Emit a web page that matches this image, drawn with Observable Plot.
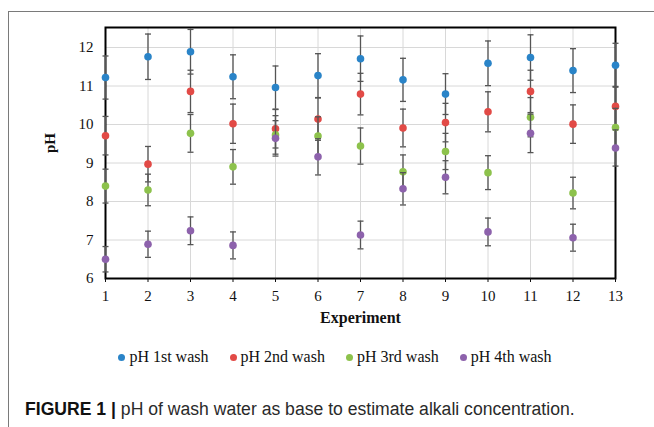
<!DOCTYPE html>
<html>
<head>
<meta charset="utf-8">
<script src="https://cdn.jsdelivr.net/npm/d3@7"></script>
<script src="https://cdn.jsdelivr.net/npm/@observablehq/plot@0.6"></script>
<style>
  html, body { margin: 0; padding: 0; background: #fff; }
  #page { position: relative; width: 654px; height: 427px; overflow: hidden; background: #fff; }
  #border { position: absolute; left: 8px; top: 11px; width: 660px; height: 430px;
            border-top: 1px solid #7a7a7a; border-left: 1px solid #7a7a7a; }
  #chart { position: absolute; left: 0; top: 0; }
  #legend { position: absolute; left: 0; top: 347px; width: 670px; display: flex; justify-content: center;
            gap: 21px; font-family: "Liberation Serif", serif; font-size: 16px; color: #111; line-height: 20px; }
  .item { display: flex; align-items: center; gap: 4px; }
  .sw { width: 7px; height: 7px; border-radius: 50%; display: inline-block; }
  #caption { position: absolute; left: 25px; top: 399px; font-family: "Liberation Sans", Arial, sans-serif;
             font-size: 17.6px; line-height: 20px; color: #2a2a2a; white-space: nowrap; }
  #caption b { font-weight: bold; color: #111; }
</style>
</head>
<body>
<div id="page">
  <div id="border"></div>
  <div id="chart"></div>
  <div id="legend"></div>
  <div id="caption"><b>FIGURE 1 |</b> pH of wash water as base to estimate alkali concentration.</div>
</div>
<script>
// ---- data ----
const experiments = [1, 2, 3, 4, 5, 6, 7, 8, 9, 10, 11, 12, 13];
const seriesNames = ["pH 1st wash", "pH 2nd wash", "pH 3rd wash", "pH 4th wash"];
const seriesColors = ["#2a84c8", "#e24a46", "#8dc24c", "#8d62ac"];
const wash1 = [11.22, 11.76, 11.89, 11.24, 10.96, 11.27, 11.71, 11.16, 10.79, 11.59, 11.74, 11.40, 11.54];
const err1  = [0.56, 0.59, 0.58, 0.57, 0.56, 0.57, 0.59, 0.56, 0.53, 0.58, 0.59, 0.57, 0.57];
const wash2 = [9.71, 8.97, 10.86, 10.02, 9.89, 10.14, 10.79, 9.91, 10.05, 10.33, 10.86, 10.01, 10.47];
const err2  = [0.50, 0.46, 0.55, 0.51, 0.50, 0.55, 0.54, 0.49, 0.50, 0.52, 0.55, 0.50, 0.52];
const wash3 = [8.40, 8.30, 9.77, 8.90, 9.73, 9.70, 9.44, 8.77, 9.30, 8.75, 10.19, 8.22, 9.92];
const err3  = [0.44, 0.41, 0.49, 0.45, 0.50, 0.50, 0.47, 0.44, 0.47, 0.44, 0.51, 0.41, 0.50];
const wash4 = [6.50, 6.89, 7.24, 6.86, 9.64, 9.16, 7.13, 8.33, 8.63, 7.21, 9.77, 7.06, 9.39];
const err4  = [0.33, 0.34, 0.36, 0.35, 0.46, 0.47, 0.36, 0.42, 0.43, 0.36, 0.50, 0.35, 0.47];
const yTicks = [6, 7, 8, 9, 10, 11, 12];
const xLabel = "Experiment";
const yLabel = "pH";

const values = [wash1, wash2, wash3, wash4];
const errors = [err1, err2, err3, err4];
const series = seriesNames.map((name, i) =>
  experiments.map((e, j) => ({exp: e, series: name, ph: values[i][j], err: errors[i][j]})));

const cap = {draw(ctx) { ctx.moveTo(-3, 0); ctx.lineTo(3, 0); }};

const marks = [
  Plot.gridX(experiments, {stroke: "#d8d8d8", strokeOpacity: 1}),
  Plot.gridY(yTicks, {stroke: "#d8d8d8", strokeOpacity: 1}),
  Plot.frame({stroke: "#000", strokeWidth: 2}),
  Plot.axisX(experiments, {tickSize: 4, tickPadding: 8, label: null, fontSize: 15}),
  Plot.axisY(yTicks, {tickSize: 0, tickPadding: 12, label: null, fontSize: 15}),
];
series.forEach((rows, i) => {
  marks.push(
    Plot.ruleX(rows, {x: "exp", y1: d => d.ph - d.err, y2: d => d.ph + d.err, stroke: "#555", strokeWidth: 1.3}),
    Plot.dot(rows, {x: "exp", y: d => d.ph + d.err, symbol: cap, stroke: "#555", strokeWidth: 1.3, fill: "none"}),
    Plot.dot(rows, {x: "exp", y: d => d.ph - d.err, symbol: cap, stroke: "#555", strokeWidth: 1.3, fill: "none"}),
    Plot.dot(rows, {x: "exp", y: "ph", r: 3.8, fill: seriesColors[i], stroke: "none"})
  );
});
marks.push(
  Plot.text([xLabel], {frameAnchor: "bottom", dy: 44, fontWeight: "bold", fontSize: 16}),
  Plot.text([yLabel], {frameAnchor: "left", dx: -55, rotate: -90, fontWeight: "bold", fontSize: 15})
);

const chart = Plot.plot({
  width: 654,
  height: 335,
  marginLeft: 105,
  marginRight: 39,
  marginTop: 27,
  marginBottom: 57,
  x: {domain: [1, 13]},
  y: {domain: [6, 12.52]},
  style: {fontFamily: "'Liberation Serif', serif", fontSize: "15px", color: "#111", background: "transparent", overflow: "visible"},
  marks
});
document.getElementById("chart").appendChild(chart);

const legend = document.getElementById("legend");
seriesNames.forEach((name, i) => {
  const it = document.createElement("div");
  it.className = "item";
  const sw = document.createElement("span");
  sw.className = "sw";
  sw.style.background = seriesColors[i];
  const t = document.createElement("span");
  t.textContent = name;
  it.appendChild(sw); it.appendChild(t);
  legend.appendChild(it);
});
</script>
</body>
</html>
